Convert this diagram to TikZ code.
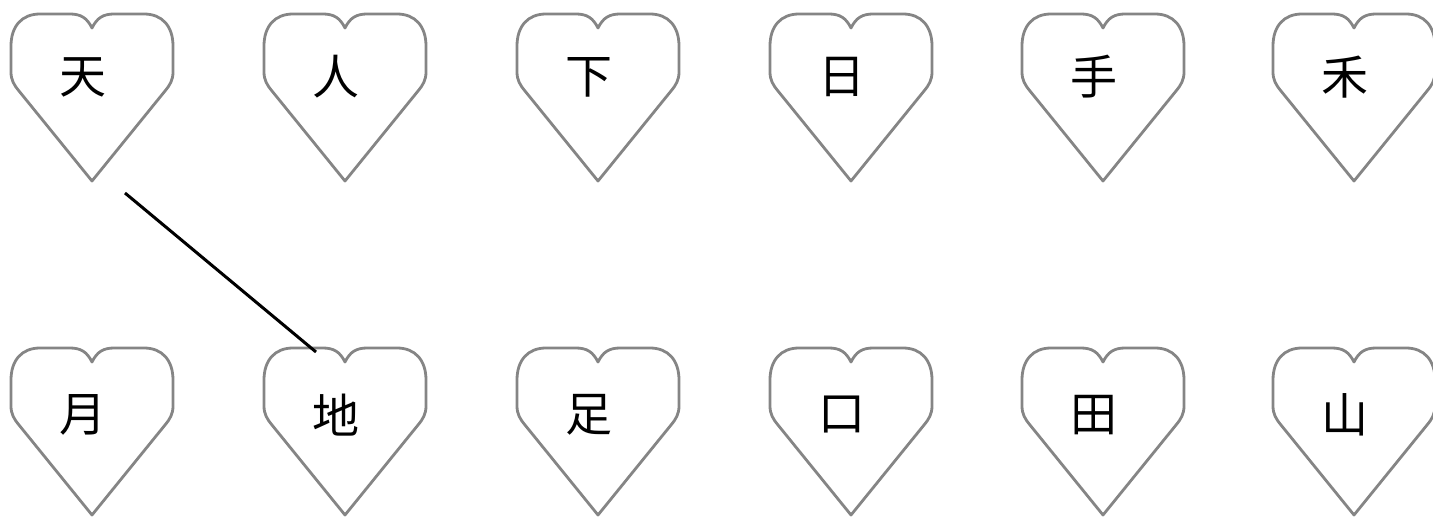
\documentclass[tikz,border=0pt]{standalone}
\usepackage{fontspec}
\newfontfamily\cjk{Noto Sans CJK SC}
\begin{document}
\begin{tikzpicture}[x=1pt,y=-1pt,
  heartline/.style={draw=black!48,line width=2.8pt,line join=round},
  lbl/.style={font=\cjk\fontsize{47}{47}\selectfont,inner sep=0pt},
  conn/.style={draw=black,line width=3pt}]
\useasboundingbox (0,0) rectangle (1433,519);
\newcommand{\myheart}[2]{%
  \draw[heartline,shift={(#1,#2)}] (0,14)
    .. controls (-5,4) and (-11,0) .. (-22,0) -- (-52,0)
    .. controls (-70,0) and (-81,12) .. (-81,32) -- (-81,58)
    .. controls (-81,66) and (-78,71) .. (-73,77) -- (0,167)
    -- (73,77) .. controls (78,71) and (81,66) .. (81,58) -- (81,32)
    .. controls (81,12) and (70,0) .. (52,0) -- (22,0)
    .. controls (11,0) and (5,4) .. (0,14) -- cycle;}
\foreach \cx in {92,345,598,851,1103,1354}{\myheart{\cx}{14}\myheart{\cx}{348}}
\node[lbl] (t1) at (83,77) {天};
\node[lbl] (t2) at (336,77) {人};
\node[lbl] (t3) at (589,77) {下};
\node[lbl] (t4) at (842,77) {日};
\node[lbl] (t5) at (1094,77) {手};
\node[lbl] (t6) at (1345,77) {禾};
\node[lbl] (b1) at (83,415) {月};
\node[lbl] (b2) at (336,415) {地};
\node[lbl] (b3) at (589,415) {足};
\node[lbl] (b4) at (842,415) {口};
\node[lbl] (b5) at (1094,415) {田};
\node[lbl] (b6) at (1345,415) {山};
\coordinate (s) at (125,193);
\coordinate (e) at (316,352);
\draw[conn] (s) -- (e);
\end{tikzpicture}
\end{document}
